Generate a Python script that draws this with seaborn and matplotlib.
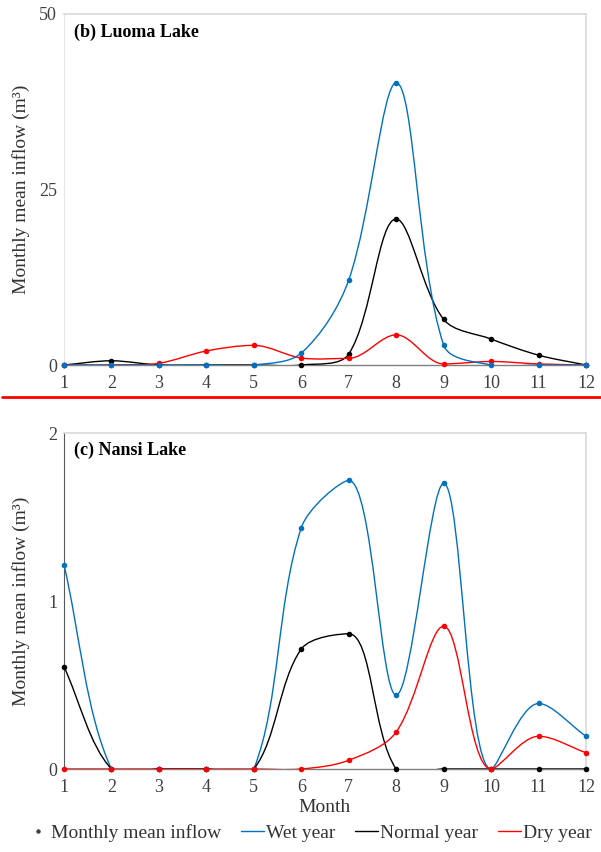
import numpy as np
import pandas as pd
import matplotlib
matplotlib.use("Agg")
import matplotlib.pyplot as plt
import seaborn as sns
from matplotlib.path import Path
from matplotlib.patches import PathPatch
from matplotlib.lines import Line2D

# ---------------- data ----------------
months = list(range(1, 13))
month_labels = [str(m) for m in months]

luoma_wet = [0, 0, 0, 0, 0, 1.7, 12.1, 40.2, 2.85, 0, 0, 0]
luoma_normal = [0, 0.6, 0, 0, 0, 0, 1.55, 20.8, 6.5, 3.7, 1.4, 0]
luoma_dry = [0, 0, 0.25, 2.0, 2.8, 1.0, 0.95, 4.3, 0.15, 0.5, 0.15, 0]

nansi_wet = [1.216, 0, 0, 0, 0, 1.436, 1.718, 0.44, 1.70, 0, 0.39, 0.195]
nansi_normal = [0.609, 0, 0, 0, 0, 0.714, 0.805, 0, 0, 0, 0, 0]
nansi_dry = [0, 0, 0, 0, 0, 0, 0.052, 0.22, 0.85, 0, 0.195, 0.097]

series_names = ["Wet year", "Normal year", "Dry year"]
colors = {"Wet year": "#0070C0", "Normal year": "#000000", "Dry year": "#FF0000"}

top_yticks = [0, 25, 50]
bot_yticks = [0, 1, 2]

# ---------------- style ----------------
sns.set_theme(style="white")
plt.rcParams["font.family"] = ["Liberation Serif", "DejaVu Serif"]
plt.rcParams["axes.linewidth"] = 1.0

fig = plt.figure(figsize=(6.01, 8.52), dpi=100)
W, H = 601, 852


def axes_rect(left, top, right, bottom):
    return [left / W, 1 - bottom / H, (right - left) / W, (bottom - top) / H]


ax1 = fig.add_axes(axes_rect(64, 14, 586, 365))
ax2 = fig.add_axes(axes_rect(64, 433, 586, 769))


def smooth_path(ax, x, y, t=1 / 3):
    """Bezier smoothing (spreadsheet-style) in display space."""
    yv = np.asarray(y, float)
    pts = ax.transData.transform(np.column_stack([x, y]).astype(float))
    n = len(pts)

    def handles(i):
        # returns (handle_before, handle_after) vectors at point i
        p1 = pts[i]
        p0 = pts[i - 1] if i > 0 else pts[i]
        p2 = pts[i + 1] if i + 1 < n else pts[i]
        d01 = np.hypot(*(p1 - p0))
        d12 = np.hypot(*(p2 - p1))
        s = d01 + d12
        if s == 0:
            return np.zeros(2), np.zeros(2)
        tan = p2 - p0
        if 0 < i < n - 1 and ((yv[i] > yv[i - 1] and yv[i] > yv[i + 1]) or
                              (yv[i] < yv[i - 1] and yv[i] < yv[i + 1])):
            tan = np.array([tan[0], 0.0])
        return tan * t * d01 / s, tan * t * d12 / s

    verts = [pts[0]]
    codes = [Path.MOVETO]
    for i in range(n - 1):
        _, ha = handles(i)
        hb, _ = handles(i + 1)
        verts += [pts[i] + ha, pts[i + 1] - hb, pts[i + 1]]
        codes += [Path.CURVE4] * 3
    verts = ax.transData.inverted().transform(np.array(verts))
    return Path(verts, codes)


def setup_axes(ax, ymax, yticks, left_spine_color):
    ax.set_xlim(1, 12)
    ax.set_ylim(0, ymax)
    ax.set_xticks(months)
    ax.set_xticklabels(month_labels)
    ax.set_yticks(yticks)
    ax.set_yticklabels([str(v) for v in yticks])
    ax.tick_params(axis="both", length=0, labelsize=13, colors="#404040")
    ax.tick_params(axis="x", pad=7)
    ax.tick_params(axis="y", pad=5)
    for s in ["top", "right"]:
        ax.spines[s].set_color("#D9D9D9")
        ax.spines[s].set_linewidth(1.2)
    ax.spines["left"].set_color(left_spine_color)
    ax.spines["left"].set_linewidth(0.8)
    ax.spines["bottom"].set_color("#808080")
    ax.spines["bottom"].set_linewidth(1.0)


setup_axes(ax1, 50, top_yticks, "#E6E6E6")
setup_axes(ax2, 2, bot_yticks, "#595959")


def draw_series(ax, name, values, z):
    col = colors[name]
    path = smooth_path(ax, months, values)
    ax.add_patch(PathPatch(path, fill=False, edgecolor=col, lw=1.0, zorder=z))
    df = pd.DataFrame({"Month": months, "Inflow": values})
    sns.scatterplot(data=df, x="Month", y="Inflow", color=col, s=16, linewidth=0,
                    ax=ax, zorder=z + 0.5, clip_on=False, legend=False)


# top panel: blue drawn last
draw_series(ax1, "Normal year", luoma_normal, 3)
draw_series(ax1, "Dry year", luoma_dry, 4)
draw_series(ax1, "Wet year", luoma_wet, 5)
# bottom panel: red drawn last
draw_series(ax2, "Wet year", nansi_wet, 3)
draw_series(ax2, "Normal year", nansi_normal, 4)
draw_series(ax2, "Dry year", nansi_dry, 5)

ax1.set_xlabel("")
ax1.set_ylabel("Monthly mean inflow (m³)", fontsize=14, color="#333333", va="center")
ax2.set_ylabel("Monthly mean inflow (m³)", fontsize=14, color="#333333", va="center")
ax1.yaxis.set_label_coords(-0.083, 0.5)
ax2.yaxis.set_label_coords(-0.083, 0.5)
ax2.set_xlabel("Month", fontsize=14, color="#333333", labelpad=2)

ax1.text(0.019, 0.972, "(b) Luoma Lake", transform=ax1.transAxes, ha="left", va="top",
         fontsize=13, fontweight="bold", color="#000000")
ax2.text(0.019, 0.975, "(c) Nansi Lake", transform=ax2.transAxes, ha="left", va="top",
         fontsize=13, fontweight="bold", color="#000000")

# red separator line between panels
fig.add_artist(Line2D([2 / W, 600 / W], [1 - 397 / H, 1 - 397 / H], color="#FF0000",
                      lw=2.0, transform=fig.transFigure))

# legend
handles = [
    Line2D([], [], linestyle="none", marker="o", markersize=2.2, color="#404040"),
    Line2D([], [], color=colors["Wet year"], lw=1.0),
    Line2D([], [], color=colors["Normal year"], lw=1.0),
    Line2D([], [], color=colors["Dry year"], lw=1.0),
]
labels = ["Monthly mean inflow"] + series_names
fig.legend(handles, labels, loc="center", bbox_to_anchor=(309 / W, 1 - 833 / H), ncol=4,
           frameon=False, fontsize=14, handlelength=1.2, handletextpad=0.1,
           columnspacing=1.0, labelcolor="#333333")

fig.savefig("out.png", dpi=100)
